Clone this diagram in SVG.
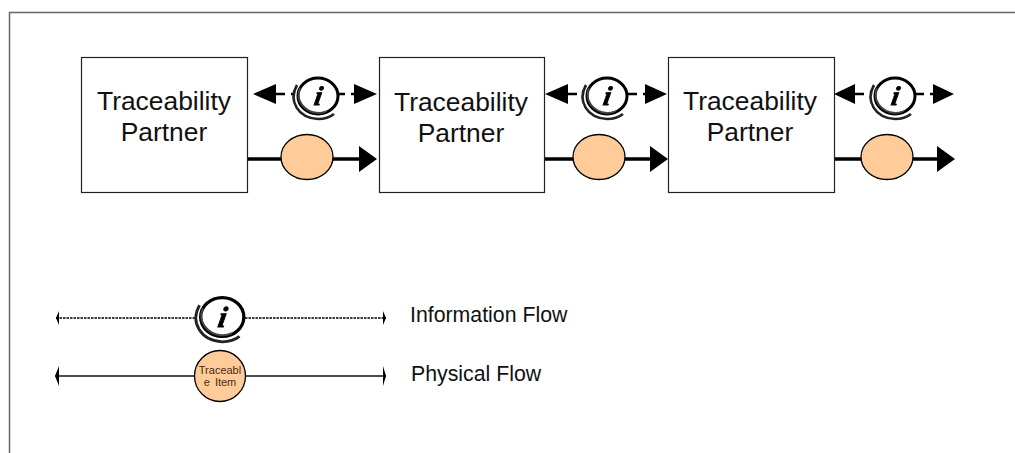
<svg xmlns="http://www.w3.org/2000/svg" width="1015" height="453" viewBox="0 0 1015 453">
<style>
.box{fill:#fff;stroke:#222;stroke-width:1.2}
.t{font-family:"Liberation Sans",Arial,sans-serif;font-size:26.4px;fill:#111;text-anchor:middle}
.l{font-family:"Liberation Sans",Arial,sans-serif;font-size:21.300px;fill:#111}
.item{fill:#ffcc99;stroke:#000;stroke-width:1.3}
.info{stroke:#000;stroke-width:2.4;stroke-dasharray:9 6;fill:none}
.phys{stroke:#000;stroke-width:3.4;fill:none}
.ti{font-family:"Liberation Sans",Arial,sans-serif;font-size:11px;fill:#4a2a10;text-anchor:middle;word-spacing:2px}
</style>
<defs>
<filter id="soft" x="-20%" y="-20%" width="140%" height="140%"><feGaussianBlur stdDeviation="0.5"/></filter>
<g id="icon" filter="url(#soft)">
<ellipse cx="1" cy="0" rx="23" ry="21" fill="#fff"/>
<ellipse cx="3" cy="0" rx="20" ry="18" fill="none" stroke="#000" stroke-width="3"/>
<path d="M-18 -11C-27 5 -17 22 3 23C9 23 14 22 19 18" fill="none" stroke="#222" stroke-width="2.600"/>
<path d="M-15 -8C-20 4 -11 16 3 17C7 17 10 16 12 15" fill="none" stroke="#444" stroke-width="1.800"/>
<text x="0" y="0" transform="translate(2 9) skewX(-10)" text-anchor="middle" font-family="Liberation Serif,serif" font-weight="bold" font-style="italic" font-size="27" fill="#000" stroke="#000" stroke-width="0.800">i</text>
</g>
</defs>
<path d="M1015 12.500H9.500V453" fill="none" stroke="#666" stroke-width="1.500"/>
<g id="connectors">
<path class="info" d="M276 94H354M568 94H645M855 94H933"/>
<path class="phys" d="M247 159H360M544 159H651M834 159H938"/>
<path d="M253 94L276 84V104ZM377 94L354 84V104ZM545 94L568 84V104ZM667 94L645 84V104ZM834 94L855 84V104ZM954 94L933 84V104ZM377 159L359 146V172ZM668 159L650 146V172ZM955 159L937 146V172Z" fill="#000"/>
<path d="M56 318H386" stroke="#000" stroke-width="1.300" stroke-dasharray="2.500 1"/>
<path d="M55 376H386" stroke="#111" stroke-width="1.400"/>
<path d="M56 318L59 311V325ZM386 318L383 311V325ZM55 376L59 366V386ZM386 376L383 366V386Z" fill="#000"/>
</g>
<g id="partner1"><rect class="box" x="81.500" y="57.500" width="166" height="135"/><text class="t" x="164" y="110">Traceability</text><text class="t" x="164" y="141">Partner</text></g>
<g id="partner2"><rect class="box" x="379.500" y="57.500" width="165" height="135"/><text class="t" x="461" y="111">Traceability</text><text class="t" x="461" y="142">Partner</text></g>
<g id="partner3"><rect class="box" x="668.500" y="57.500" width="166" height="135"/><text class="t" x="750" y="110">Traceability</text><text class="t" x="750" y="141">Partner</text></g>
<g id="info1"><use href="#icon" x="315" y="96"/></g>
<g id="info2"><use href="#icon" x="604" y="96"/></g>
<g id="info3"><use href="#icon" x="892" y="96"/></g>
<g id="item1"><ellipse class="item" cx="307" cy="157" rx="26" ry="22.500"/></g>
<g id="item2"><ellipse class="item" cx="599" cy="157" rx="26" ry="22.500"/></g>
<g id="item3"><ellipse class="item" cx="887" cy="157" rx="26" ry="22.500"/></g>
<g id="legend-info"><use href="#icon" transform="translate(219 317) scale(1.080)"/><text class="l" x="410" y="322">Information Flow</text></g>
<g id="legend-physical"><ellipse class="item" cx="220" cy="376" rx="25.500" ry="25.500"/><text class="ti" x="220" y="374">Traceabl</text><text class="ti" x="220" y="386">e Item</text><text class="l" x="411" y="381">Physical Flow</text></g>
</svg>
